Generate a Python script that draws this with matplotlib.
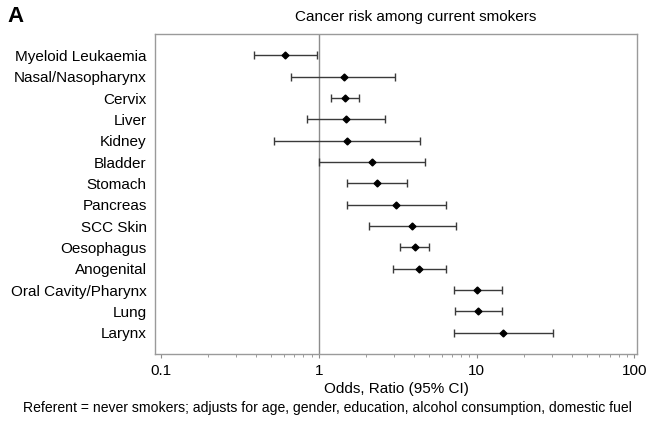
import matplotlib
matplotlib.use("Agg")
import matplotlib.pyplot as plt
import numpy as np
from matplotlib.ticker import LogLocator, NullFormatter, FixedLocator, FixedFormatter

plt.rcParams['font.family'] = ['Liberation Sans', 'DejaVu Sans']

cancers = ["Myeloid Leukaemia", "Nasal/Nasopharynx", "Cervix", "Liver", "Kidney",
           "Bladder", "Stomach", "Pancreas", "SCC Skin", "Oesophagus", "Anogenital",
           "Oral Cavity/Pharynx", "Lung", "Larynx"]
odds = [0.61, 1.44, 1.46, 1.49, 1.52, 2.19, 2.35, 3.1, 3.9, 4.05, 4.32, 10.0, 10.2, 14.8]
lower = [0.39, 0.67, 1.19, 0.84, 0.52, 1.01, 1.52, 1.52, 2.08, 3.25, 2.96, 7.24, 7.3, 7.24]
upper = [0.97, 3.06, 1.79, 2.64, 4.36, 4.73, 3.65, 6.38, 7.4, 4.99, 6.38, 14.4, 14.4, 30.4]
xticks = [0.1, 1, 10, 100]
xtick_labels = ["0.1", "1", "10", "100"]

fig = plt.figure(figsize=(6.55, 4.23), dpi=100)
ax = fig.add_axes([0.2366, 0.163, 0.736, 0.7566])

y = np.arange(1, len(cancers) + 1)
o = np.array(odds); lo = np.array(lower); hi = np.array(upper)
ax.axvline(1, color='#8c8c8c', lw=1.0, zorder=1)
ax.errorbar(o, y, xerr=[o - lo, hi - o], fmt='D', color='black', ms=3.5,
            ecolor='#3a3a3a', elinewidth=1.0, capsize=3, capthick=1.0, zorder=3)

ax.set_xscale('log')
ax.set_xlim(0.0917, 104)
ax.set_ylim(15, 0)
ax.set_yticks(y)
ax.set_yticklabels(cancers, fontsize=11)
ax.tick_params(axis='y', length=0, pad=6)
ax.xaxis.set_major_locator(FixedLocator(xticks))
ax.xaxis.set_major_formatter(FixedFormatter(xtick_labels))
ax.xaxis.set_minor_locator(LogLocator(base=10, subs=np.arange(2, 10)))
ax.xaxis.set_minor_formatter(NullFormatter())
ax.tick_params(axis='x', which='major', length=3, color='#8c8c8c', labelsize=11, pad=4)
ax.tick_params(axis='x', which='minor', length=2, color='#8c8c8c')
for s in ax.spines.values():
    s.set_color('#9a9a9a')
    s.set_linewidth(1.0)

ax.set_xlabel("Odds, Ratio (95% CI)", fontsize=11, labelpad=3)
fig.text(0.634, 1 - 17 / 423, "Cancer risk among current smokers", fontsize=11,
         ha='center', va='center')
fig.text(0.011, 0.985, "A", fontsize=16, fontweight='bold', va='top', ha='left')
fig.text(0.5, 0.036, "Referent = never smokers; adjusts for age, gender, education, alcohol consumption, domestic fuel",
         fontsize=10.1, ha='center', va='center')

fig.savefig("out.png", dpi=100)
